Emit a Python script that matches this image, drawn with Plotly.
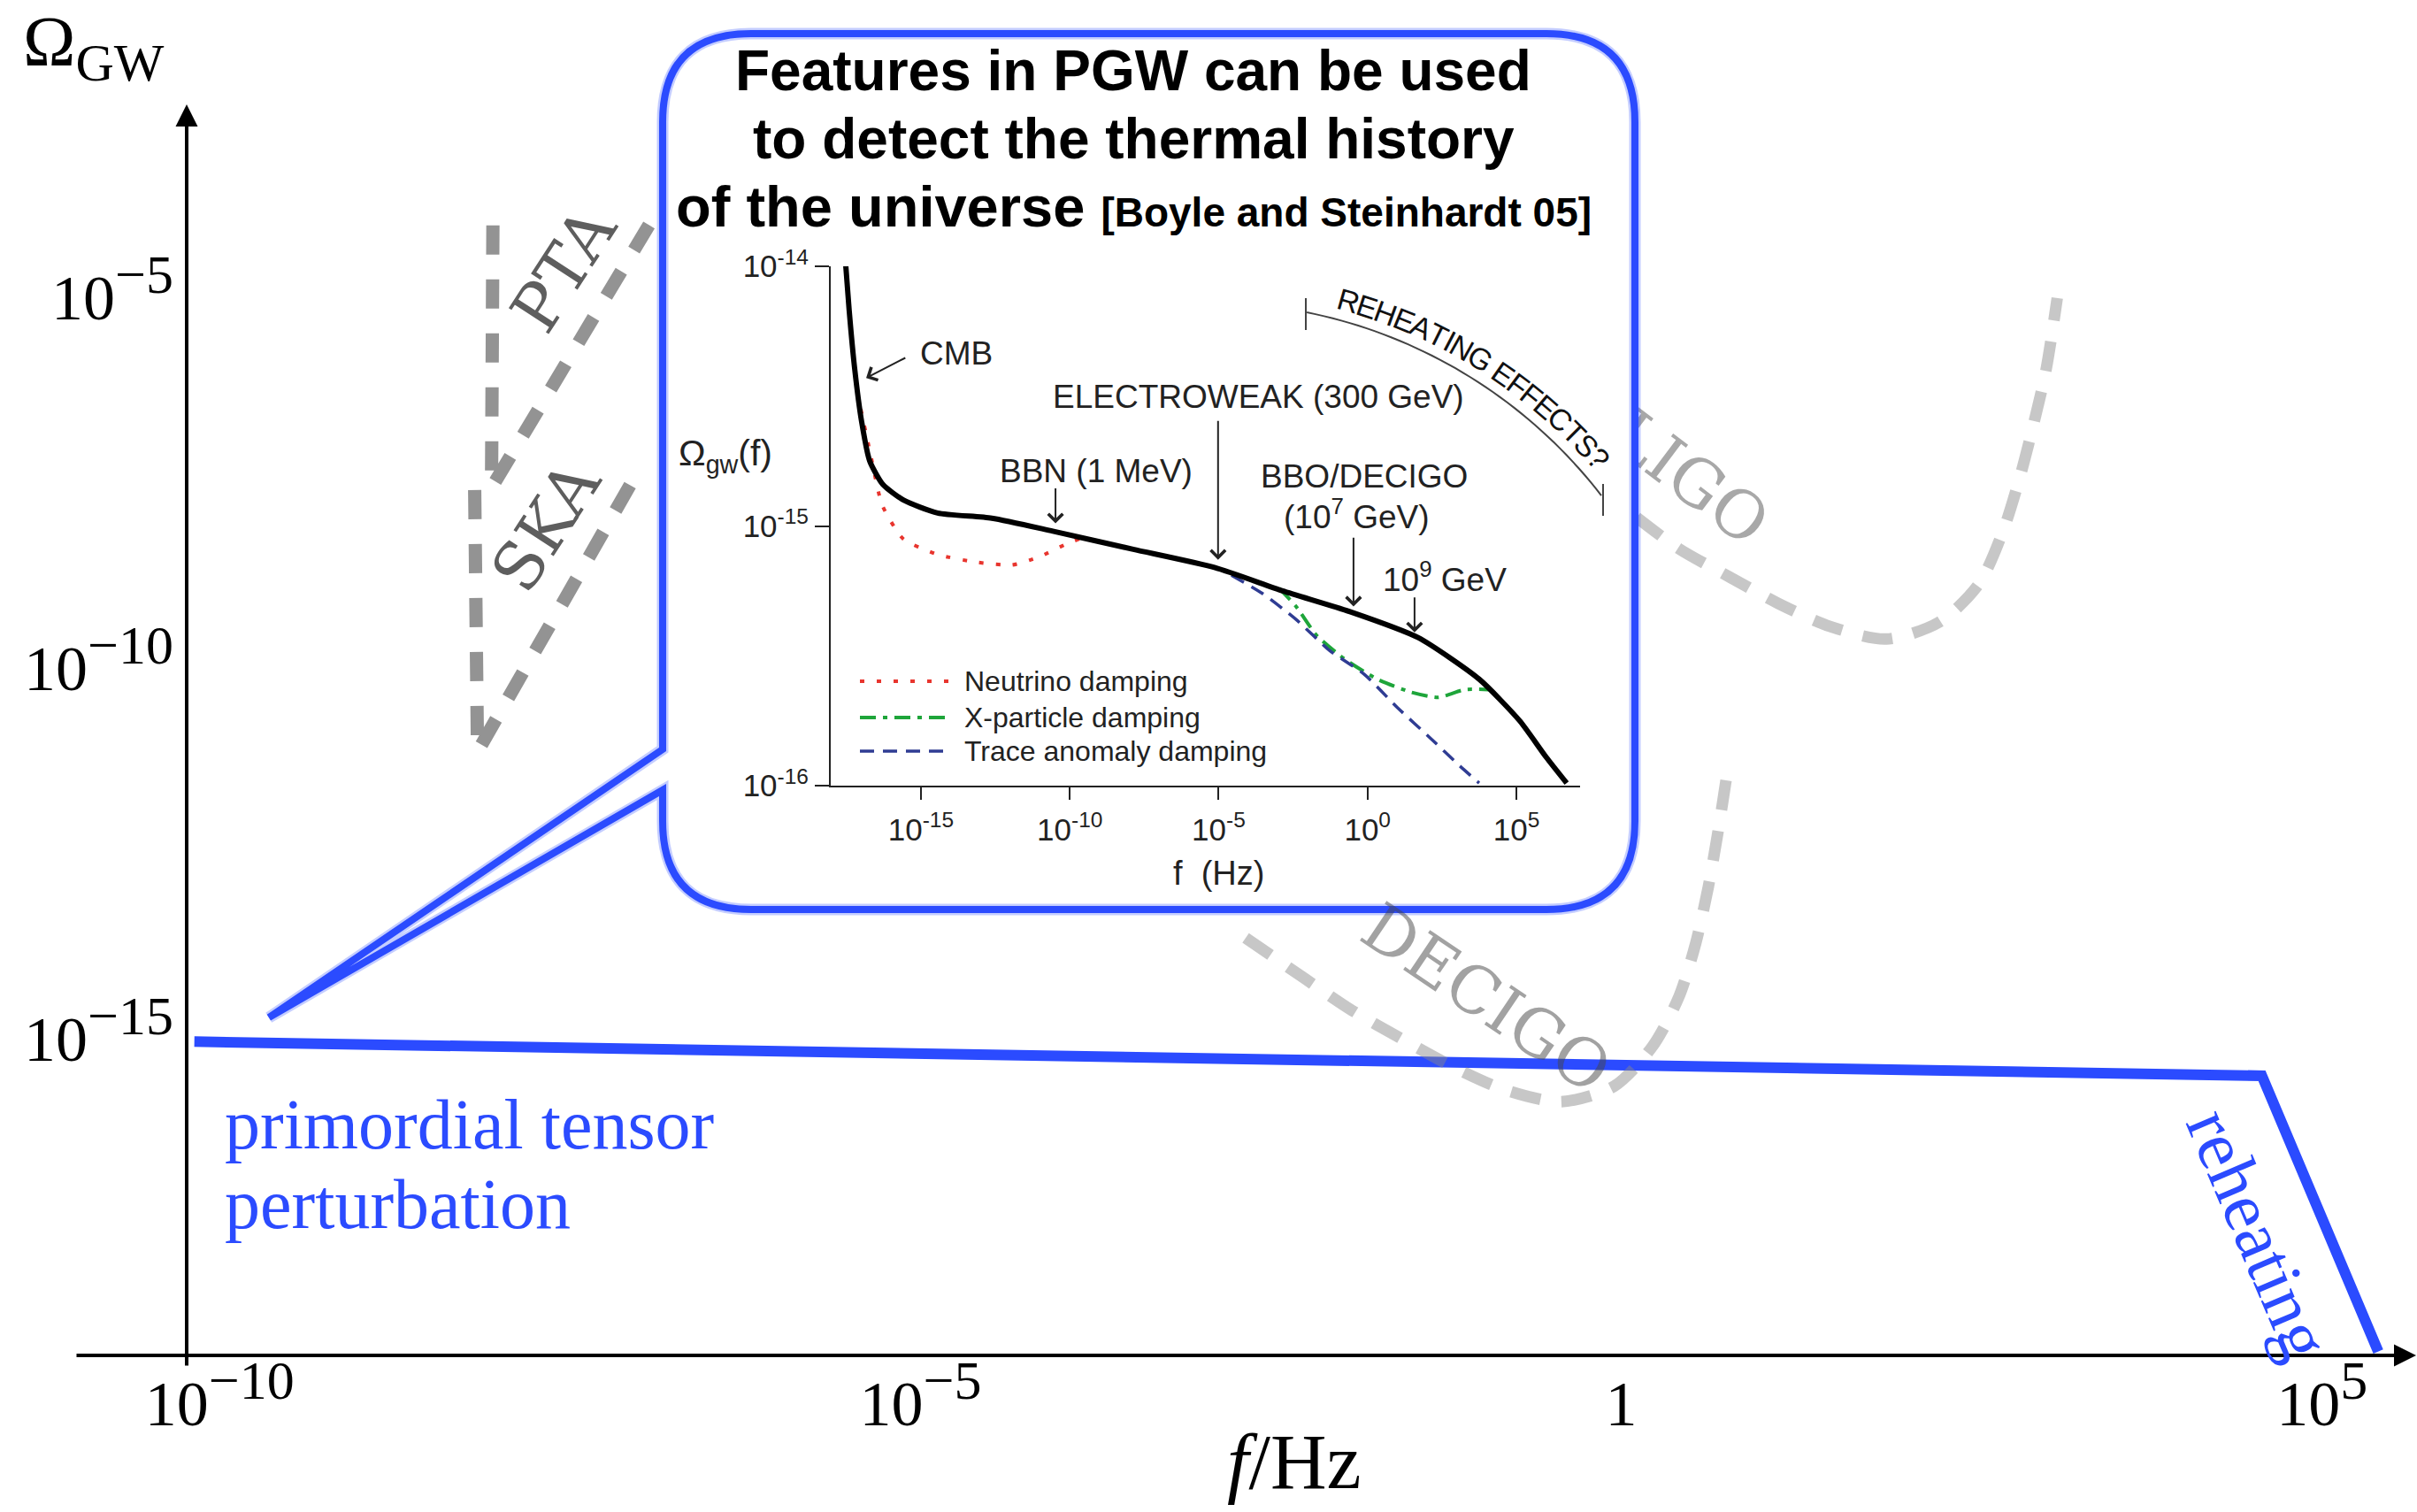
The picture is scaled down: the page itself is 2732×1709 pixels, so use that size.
import math
import plotly.graph_objects as go

W, H = 2732, 1709

# ------------------------------------------------------------------
# Main schematic: log10(f / Hz) vs log10(Omega_GW)
# ------------------------------------------------------------------
prim_log_f = [-10.18, 4.57, 5.40]
prim_log_omega = [-15.04, -15.50, -19.22]

pta_log_f = [-8.05, -8.06, -6.90]
pta_log_omega = [-4.03, -7.57, -3.91]

ska_log_f = [-8.18, -8.16, -7.04]
ska_log_omega = [-7.60, -11.13, -7.43]

ligo_log_f = [0.11, 0.41, 0.77, 1.12, 1.49, 1.89, 2.27, 2.55, 2.72, 2.84, 2.94, 3.03, 3.11]
ligo_log_omega = [-7.97, -8.39, -8.77, -9.13, -9.44, -9.61, -9.38, -8.87, -8.17, -7.45, -6.72, -5.98, -5.01]

decigo_log_f = [-2.68, -2.25, -1.92, -1.56, -1.19, -0.83, -0.43, -0.05, 0.22, 0.41, 0.53, 0.62, 0.69, 0.77]
decigo_log_omega = [-13.64, -14.20, -14.62, -15.01, -15.39, -15.69, -15.85, -15.64, -15.11, -14.44,
                    -13.72, -12.96, -12.21, -11.23]

SUP_MAIN = "<sup><span style='font-size:62px'>{}</span></sup>"
main_xtick_vals = [-10, -5, 0, 5]
main_xtick_text = ["10" + SUP_MAIN.format("−10"), "10" + SUP_MAIN.format("−5"), "1", "10" + SUP_MAIN.format("5")]
main_ytick_vals = [-15, -10, -5]
main_ytick_text = ["10" + SUP_MAIN.format("−15"), "10" + SUP_MAIN.format("−10"), "10" + SUP_MAIN.format("−5")]

# ------------------------------------------------------------------
# Inset: PGW spectrum with damping features (Boyle & Steinhardt 05)
# ------------------------------------------------------------------
bs_log_f = [-17.53, -17.41, -17.23, -16.99, -16.72, -16.28, -15.59, -14.44, -12.62, -10.57,
            -7.87, -5.14, -2.85, -0.59, 1.70, 3.75, 5.11, 6.00, 6.69]
bs_log_omega = [-13.99, -14.17, -14.39, -14.60, -14.75, -14.84, -14.90, -14.95, -14.97, -15.02,
                -15.09, -15.16, -15.25, -15.33, -15.43, -15.59, -15.75, -15.89, -15.99]

nu_log_f = [-17.02, -16.70, -16.30, -15.59, -14.44, -13.10, -11.94, -11.05, -10.13, -9.44]
nu_log_omega = [-14.55, -14.72, -14.92, -15.05, -15.11, -15.14, -15.15, -15.12, -15.07, -15.04]

xp_log_f = [-2.97, -2.40, -1.72, -0.80, 0.33, 1.46, 2.38, 3.27, 4.07]
xp_log_omega = [-15.24, -15.31, -15.42, -15.51, -15.59, -15.64, -15.66, -15.63, -15.63]

ta_log_f = [-4.57, -3.53, -2.40, -1.27, -0.12, 1.01, 2.14, 3.06, 3.75]
ta_log_omega = [-15.19, -15.26, -15.36, -15.48, -15.57, -15.70, -15.82, -15.92, -15.99]

inset_xtick_vals = [-15, -10, -5, 0, 5]
inset_xtick_text = ["10<sup>-15</sup>", "10<sup>-10</sup>", "10<sup>-5</sup>", "10<sup>0</sup>", "10<sup>5</sup>"]
inset_ytick_vals = [-16, -15, -14]
inset_ytick_text = ["10<sup>-16</sup>", "10<sup>-15</sup>", "10<sup>-14</sup>"]

legend_names = ["Neutrino damping", "X-particle damping", "Trace anomaly damping"]

# ------------------------------------------------------------------
# Styling
# ------------------------------------------------------------------
BLUE = "#2B4BFF"
DARK_GRAY = "#939393"
LIGHT_GRAY = "rgba(135,135,135,0.47)"
SERIF = "Liberation Serif, Times New Roman, serif"
LABEL_SERIF = "DejaVu Serif, serif"
SANS = "Liberation Sans, Arial, sans-serif"
INK = "#222222"

RED = "#E8352E"
GREEN = "#1EA53A"
NAVY = "#2F3C93"
RED_DASH = "5px,14px"
GREEN_DASH = "18px,8px,5px,8px"
NAVY_DASH = "16px,10px"

# pixel geometry of the page
X0_PX, DX = 1832.6, 158.44     # column of f = 1 Hz, pixels per decade
Y5_PX, DY = 336.0, 83.8        # row of Omega = 1e-5, pixels per decade
AX_X_PX, AX_Y_PX, AX_TOP_PX = 211, 1532, 120


def px(x):
    return x / W


def py(y):
    return 1 - y / H


def pt(x, y):
    return f"{px(x):.5f},{py(y):.5f}"


fig = go.Figure()

# main curves
fig.add_trace(go.Scatter(x=prim_log_f, y=prim_log_omega, mode="lines",
                         line=dict(color=BLUE, width=12), hoverinfo="skip"))
for xs, ys in [(pta_log_f, pta_log_omega), (ska_log_f, ska_log_omega)]:
    fig.add_trace(go.Scatter(x=xs, y=ys, mode="lines",
                             line=dict(color=DARK_GRAY, width=15, dash="33px,28px"),
                             hoverinfo="skip"))
for xs, ys in [(ligo_log_f, ligo_log_omega), (decigo_log_f, decigo_log_omega)]:
    fig.add_trace(go.Scatter(x=xs, y=ys, mode="lines",
                             line=dict(color=LIGHT_GRAY, width=13, dash="34px,24px",
                                       shape="spline", smoothing=0.8),
                             hoverinfo="skip"))

# inset curves
for xs, ys, col, dash, w in [(nu_log_f, nu_log_omega, RED, RED_DASH, 4),
                             (xp_log_f, xp_log_omega, GREEN, GREEN_DASH, 4),
                             (ta_log_f, ta_log_omega, NAVY, NAVY_DASH, 3.5)]:
    fig.add_trace(go.Scatter(x=xs, y=ys, xaxis="x2", yaxis="y2", mode="lines",
                             line=dict(color=col, width=w, dash=dash, shape="spline", smoothing=0.6),
                             hoverinfo="skip"))
fig.add_trace(go.Scatter(x=bs_log_f, y=bs_log_omega, xaxis="x2", yaxis="y2", mode="lines",
                         line=dict(color="black", width=6, shape="spline", smoothing=0.6),
                         hoverinfo="skip"))

shapes = []
annotations = []

# LIGO label sits partly behind the call-out box, so it is drawn as a
# shape label on the lowest layer, before the box's white fill
LIGO_C = (1914, 536)
shapes.append(dict(type="rect", xref="paper", yref="paper", layer="below",
                   x0=px(LIGO_C[0] - 1), x1=px(LIGO_C[0] + 1), y0=py(LIGO_C[1] + 1), y1=py(LIGO_C[1] - 1),
                   line=dict(width=0), fillcolor="rgba(0,0,0,0)",
                   label=dict(text="LIGO", textangle=37, textposition="middle center",
                              font=dict(family=LABEL_SERIF, size=74, color="#A8A8A8"))))

# call-out box with a tail pointing at the primordial spectrum
BL, BR, BT, BB, RC = 749, 1848, 38, 1028, 100
TAIL_TOP, TAIL_BOT, TIP = 847, 893, (304, 1150)
box_path = (f"M{pt(BL + RC, BT)} L{pt(BR - RC, BT)} Q{pt(BR, BT)} {pt(BR, BT + RC)} "
            f"L{pt(BR, BB - RC)} Q{pt(BR, BB)} {pt(BR - RC, BB)} "
            f"L{pt(BL + RC, BB)} Q{pt(BL, BB)} {pt(BL, BB - RC)} "
            f"L{pt(BL, TAIL_BOT)} L{pt(*TIP)} L{pt(BL, TAIL_TOP)} "
            f"L{pt(BL, BT + RC)} Q{pt(BL, BT)} {pt(BL + RC, BT)} Z")
shapes.append(dict(type="path", path=box_path, xref="paper", yref="paper", layer="below",
                   line=dict(width=0), fillcolor="white"))
# soft crayon-like fringe, then the solid stroke
shapes.append(dict(type="path", path=box_path, xref="paper", yref="paper", layer="above",
                   line=dict(color="rgba(43,75,255,0.28)", width=13), fillcolor="rgba(0,0,0,0)"))
shapes.append(dict(type="path", path=box_path, xref="paper", yref="paper", layer="above",
                   line=dict(color=BLUE, width=8), fillcolor="rgba(0,0,0,0)"))

# main axes with arrow heads
annotations.append(dict(x=px(2731), y=py(AX_Y_PX), text="", showarrow=True,
                        ax=-(2731 - 85), ay=0, arrowhead=2, arrowsize=1.25,
                        arrowwidth=4, arrowcolor="black", font=dict(size=1)))
annotations.append(dict(x=px(AX_X_PX), y=py(AX_TOP_PX - 2), text="", showarrow=True,
                        ax=0, ay=1545 - (AX_TOP_PX - 2), arrowhead=2, arrowsize=1.25,
                        arrowwidth=4, arrowcolor="black", font=dict(size=1)))

# main labels
annotations += [
    dict(x=px(24), y=py(54), text="Ω<sub><span style='font-size:60px'>GW</span></sub>", xanchor="left",
         font=dict(family=SERIF, size=80, color="black")),
    dict(x=px(1463), y=py(1652), text="<i>f</i>/Hz", font=dict(family=SERIF, size=88, color="black")),
    dict(x=px(252), y=py(1271), text="primordial tensor", xanchor="left", font=dict(family=SERIF, size=80, color=BLUE)),
    dict(x=px(252), y=py(1361), text="perturbation", xanchor="left", font=dict(family=SERIF, size=80, color=BLUE)),
    dict(x=px(2553), y=py(1395), text="reheating", textangle=67, font=dict(family=SERIF, size=80, color=BLUE)),
    dict(x=px(637), y=py(304), text="PTA", textangle=-57, font=dict(family=LABEL_SERIF, size=74, color="#5E5E5E")),
    dict(x=px(617), y=py(594), text="SKA", textangle=-57, font=dict(family=LABEL_SERIF, size=74, color="#5E5E5E")),
    dict(x=px(1680), y=py(1128), text="DECIGO", textangle=34, font=dict(family=LABEL_SERIF, size=74, color="rgba(70,70,70,0.5)")),
]

# box heading
TITLE_FONT = dict(family=SANS, size=64, color="black")
annotations += [
    dict(x=px(1281), y=py(80), text="<b>Features in PGW can be used</b>", font=TITLE_FONT),
    dict(x=px(1281), y=py(157), text="<b>to detect the thermal history</b>", font=TITLE_FONT),
    dict(x=px(1281), y=py(233), font=dict(family=SANS, size=65, color="black"),
         text="<b>of the universe <span style='font-size:46px'>[Boyle and Steinhardt 05]</span></b>"),
]

# inset axis titles
annotations += [
    dict(x=px(820), y=py(515), text="Ω<sub>gw</sub>(f)", font=dict(family=SANS, size=41, color=INK)),
    dict(x=px(1377), y=py(987), text="f  (Hz)", font=dict(family=SANS, size=38, color=INK)),
]

# inset event labels and arrows (inset data coordinates)
LBL = dict(family=SANS, size=37, color=INK)
annotations += [
    dict(x=-13.81, y=-14.337, xref="x2", yref="y2", text="CMB", font=LBL),
    dict(x=-3.65, y=-14.504, xref="x2", yref="y2", text="ELECTROWEAK (300 GeV)", font=LBL),
    dict(x=-9.12, y=-14.79, xref="x2", yref="y2", text="BBN (1 MeV)", font=LBL),
    dict(x=-0.11, y=-14.808, xref="x2", yref="y2", text="BBO/DECIGO", font=LBL),
    dict(x=-0.35, y=-14.957, xref="x2", yref="y2", text="(10<sup>7</sup> GeV)", font=LBL),
    dict(x=2.59, y=-15.199, xref="x2", yref="y2", text="10<sup>9</sup> GeV", font=LBL),
]
arrow_heads = [(-16.84, -14.43), (-5.02, -15.13), (-10.48, -14.99), (-0.47, -15.31), (1.58, -15.41)]
arrow_tails = [(-15.48, -14.35), (-5.02, -14.59), (-10.48, -14.85), (-0.47, -15.04), (1.58, -15.27)]
for (hx, hy), (tx, ty) in zip(arrow_heads, arrow_tails):
    annotations.append(dict(x=hx, y=hy, xref="x2", yref="y2", ax=tx, ay=ty, axref="x2", ayref="y2",
                            text="", showarrow=True, arrowhead=4, arrowsize=1.6, arrowwidth=2,
                            arrowcolor=INK, font=dict(size=1)))

# inset legend
legend_y = [770, 811, 849]
for name, yy, col, dash, w in zip(legend_names, legend_y, [RED, GREEN, NAVY],
                                  [RED_DASH, GREEN_DASH, NAVY_DASH], [4, 4, 3.5]):
    shapes.append(dict(type="line", xref="paper", yref="paper", x0=px(972), x1=px(1072),
                       y0=py(yy), y1=py(yy), line=dict(color=col, width=w, dash=dash)))
    annotations.append(dict(x=px(1088), y=py(yy), text=name, xanchor="left",
                            font=dict(family=SANS, size=32, color=INK)))

# "REHEATING EFFECTS?" bracket arc with text following it
ARC_CX, ARC_CY, ARC_R = 1366.4, 902.3, 560.3
t0, t1 = math.radians(-78.6), math.radians(-37.65)
arc_pts = [(ARC_CX + ARC_R * math.cos(t0 + (t1 - t0) * i / 40),
            ARC_CY + ARC_R * math.sin(t0 + (t1 - t0) * i / 40)) for i in range(41)]
shapes.append(dict(type="path", xref="paper", yref="paper",
                   path="M" + " L".join(pt(x, y) for x, y in arc_pts),
                   line=dict(color="#444444", width=2)))
for xx, y0, y1 in [(1476, 337, 373), (1812, 547, 583)]:
    shapes.append(dict(type="line", xref="paper", yref="paper", x0=px(xx), x1=px(xx),
                       y0=py(y0), y1=py(y1), line=dict(color="#444444", width=2)))

arc_text = "REHEATING EFFECTS?"
glyph_w = {"R": .722, "E": .667, "H": .722, "A": .667, "T": .611, "I": .278, "N": .722, "G": .778,
           " ": .278, "F": .611, "C": .722, "S": .667, "?": .556}
ws = [glyph_w[c] for c in arc_text]
centers = []
acc = 0
for w_ in ws:
    centers.append(acc + w_ / 2)
    acc += w_
a0, a1 = math.radians(-74.3), math.radians(-41.1)
R_TXT = 584
for ch, c in zip(arc_text, centers):
    if ch == " ":
        continue
    frac = (c - centers[0]) / (centers[-1] - centers[0])
    th = a0 + (a1 - a0) * frac
    annotations.append(dict(x=px(ARC_CX + R_TXT * math.cos(th)), y=py(ARC_CY + R_TXT * math.sin(th)),
                            text=ch, textangle=math.degrees(th) + 90,
                            font=dict(family=SANS, size=34, color="#111111")))

for a in annotations:
    a.setdefault("xref", "paper")
    a.setdefault("yref", "paper")
    a.setdefault("showarrow", False)
    a.setdefault("xanchor", "center")
    a.setdefault("yanchor", "middle")

fig.update_layout(
    width=W, height=H,
    autosize=False,
    margin=dict(l=0, r=0, t=0, b=0, pad=0, autoexpand=False),
    paper_bgcolor="white", plot_bgcolor="rgba(0,0,0,0)",
    showlegend=False,
    xaxis=dict(domain=[px(AX_X_PX), 1],
               range=[(AX_X_PX - X0_PX) / DX, (W - X0_PX) / DX],
               showline=False, showgrid=False, zeroline=False, ticks="", automargin=False,
               tickvals=main_xtick_vals, ticktext=main_xtick_text, ticklabelstandoff=6,
               tickfont=dict(family=SERIF, size=72, color="black"), fixedrange=True),
    yaxis=dict(domain=[py(AX_Y_PX), py(AX_TOP_PX)],
               range=[-5 - (AX_Y_PX - Y5_PX) / DY, -5 - (AX_TOP_PX - Y5_PX) / DY],
               showline=False, showgrid=False, zeroline=False, ticks="", automargin=False,
               tickvals=main_ytick_vals, ticktext=main_ytick_text, ticklabelstandoff=14,
               tickfont=dict(family=SERIF, size=72, color="black"), fixedrange=True),
    xaxis2=dict(domain=[px(939), px(1786)], range=[-18.03, 7.14], anchor="y2", automargin=False,
                showline=True, linecolor=INK, linewidth=2, showgrid=False, zeroline=False,
                ticks="outside", ticklen=14, tickwidth=2, tickcolor=INK, ticklabelstandoff=4,
                tickvals=inset_xtick_vals, ticktext=inset_xtick_text,
                tickfont=dict(family=SANS, size=35, color=INK), fixedrange=True),
    yaxis2=dict(domain=[py(888), py(301)], range=[-16, -14], anchor="x2", automargin=False,
                showline=True, linecolor=INK, linewidth=2, showgrid=False, zeroline=False,
                ticks="outside", ticklen=16, tickwidth=2, tickcolor=INK,
                tickvals=inset_ytick_vals, ticktext=inset_ytick_text,
                tickfont=dict(family=SANS, size=35, color=INK), fixedrange=True),
    shapes=shapes,
    annotations=annotations,
)

fig.write_html("out.html", post_script="document.body.style.margin='0';")
